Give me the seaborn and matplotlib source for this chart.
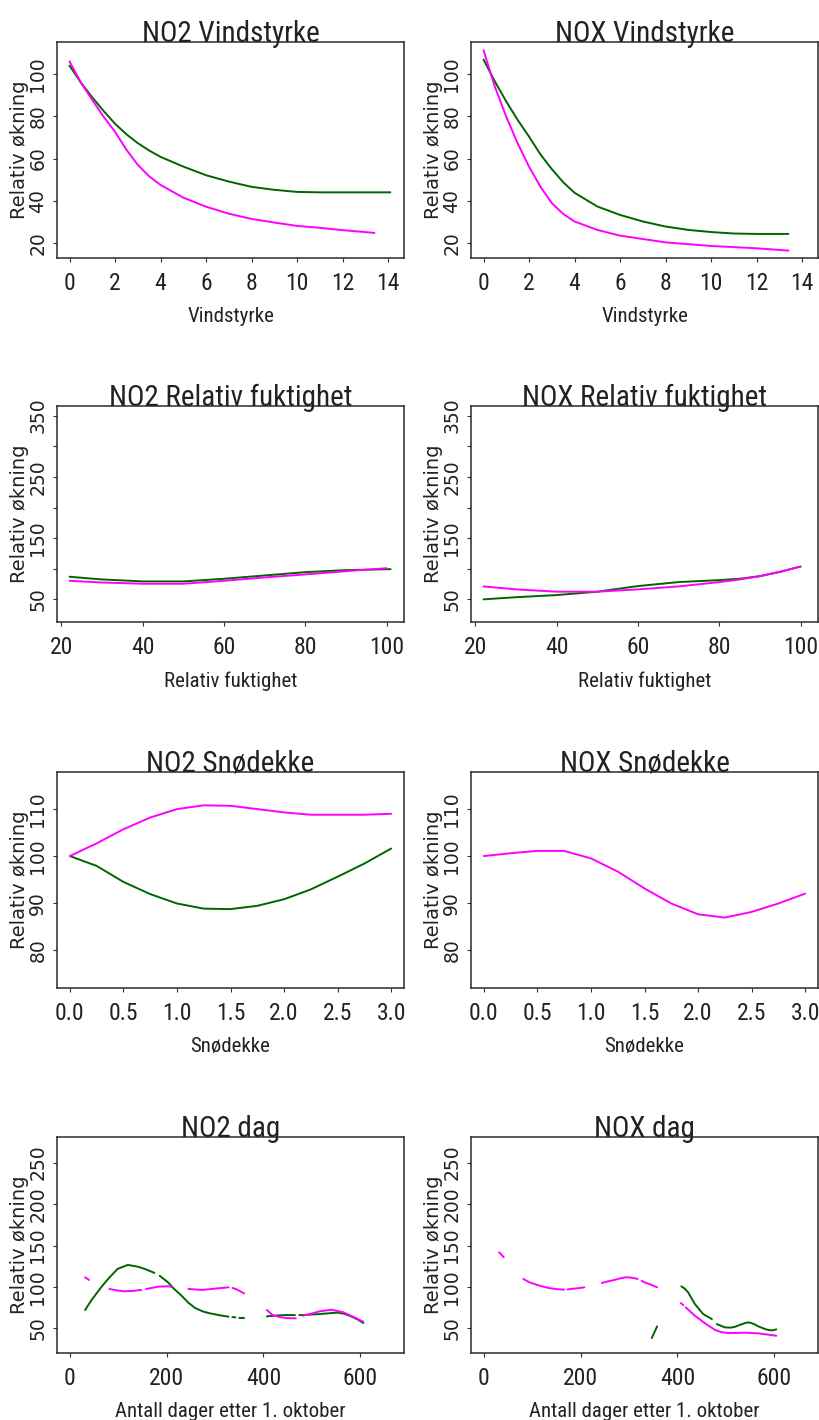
import numpy as np
import pandas as pd
import matplotlib
matplotlib.use("Agg")
import matplotlib.pyplot as plt
import seaborn as sns

# ---------------- data ----------------
# magenta = serie A, dark green = serie B

# Vindstyrke
vind_no2_mag_x = [0, 0.5, 1, 1.5, 2, 2.5, 3, 3.5, 4, 5, 6, 7, 8, 9, 10, 11, 12, 13.4]
vind_no2_mag_y = [106, 96, 87.7, 79.8, 72.7, 64.2, 57.0, 51.6, 47.5, 41.5, 37.2, 33.9, 31.4, 29.7, 28.1, 27.2, 26.1, 24.8]
vind_no2_grn_x = [0, 0.5, 1, 1.5, 2, 2.5, 3, 3.5, 4, 5, 6, 7, 8, 9, 10, 11, 12, 13, 14.1]
vind_no2_grn_y = [104, 96, 89, 82.5, 76.5, 71.5, 67.3, 63.8, 60.8, 56.2, 52.1, 49.1, 46.6, 45.2, 44.2, 44, 44, 44, 44]

vind_nox_mag_x = [0, 0.5, 1, 1.5, 2, 2.5, 3, 3.5, 4, 5, 6, 8, 10, 12, 13.4]
vind_nox_mag_y = [111.3, 94, 79.8, 67.2, 56.2, 46.7, 38.9, 33.8, 30.2, 26.2, 23.5, 20.3, 18.6, 17.5, 16.4]
vind_nox_grn_x = [0, 0.5, 1, 1.5, 2, 2.5, 3, 3.5, 4, 5, 6, 7, 8, 9, 10, 11, 12, 13.4]
vind_nox_grn_y = [106.9, 96.5, 87, 78.3, 70.4, 62, 55, 48.8, 43.8, 37.3, 33.3, 30.2, 27.8, 26.2, 25.2, 24.5, 24.3, 24.3]

# Relativ fuktighet
rf_no2_mag_x = [22, 30, 40, 50, 60, 70, 80, 90, 100]
rf_no2_mag_y = [80.3, 77.5, 75.5, 75.5, 80.3, 85.8, 90.7, 96.0, 100.9]
rf_no2_grn_x = [22, 30, 40, 50, 60, 70, 80, 90, 101]
rf_no2_grn_y = [86.9, 82.5, 79.3, 79.3, 83.6, 89.0, 94.4, 97.7, 99.3]

rf_nox_mag_x = [22, 30, 40, 50, 60, 70, 80, 85, 90, 95, 100]
rf_nox_mag_y = [71.1, 66.3, 62.5, 62.5, 66.3, 71.1, 78.2, 82.4, 87.9, 95.0, 103.6]
rf_nox_grn_x = [22, 30, 40, 50, 60, 70, 80, 85, 90, 95, 100]
rf_nox_grn_y = [50.0, 53.5, 57.0, 62.5, 71.7, 78.2, 81.4, 83.6, 87.9, 95.0, 103.6]

# Snødekke
sno_x = [0, 0.25, 0.5, 0.75, 1.0, 1.25, 1.5, 1.75, 2.0, 2.25, 2.5, 2.75, 3.0]
sno_no2_mag_y = [100, 102.7, 105.7, 108.2, 110.0, 110.8, 110.7, 110.0, 109.3, 108.8, 108.8, 108.8, 109.0]
sno_no2_grn_y = [100, 97.9, 94.5, 91.9, 89.9, 88.8, 88.7, 89.4, 90.8, 92.9, 95.6, 98.4, 101.6]
sno_nox_mag_y = [100, 100.6, 101.1, 101.1, 99.5, 96.7, 93.1, 89.9, 87.6, 86.9, 88.1, 89.9, 92.0]

# dag (broken curves: segment id per point)
dag_no2_mag_x = [32, 40, 82, 100, 113, 130, 148, 158, 183, 203, 210, 245, 273, 300, 328,
                 336, 345, 360, 407, 419, 435, 447, 467, 481, 500, 516, 540, 565, 585, 606]
dag_no2_mag_y = [111.7, 108.5, 97.6, 95.6, 94.8, 95.2, 96.4, 97.5, 100.4, 100.8, 100.2, 97.6, 96.4, 98.0, 99.6,
                 98.8, 97.0, 92.3, 72.2, 66.1, 63.5, 62.5, 62.1, 65.3, 68.0, 70.6, 72.6, 69.4, 64.1, 58.1]
dag_no2_mag_seg = [0, 0, 1, 1, 1, 1, 1, 2, 2, 2, 2, 3, 3, 3, 3,
                   4, 4, 4, 5, 5, 5, 5, 5, 6, 6, 6, 6, 6, 6, 6]
dag_no2_grn_x = [32, 45, 65, 80, 99, 120, 140, 155, 175, 186, 203, 215, 231, 245, 259, 275, 287, 310, 328,
                 336, 342, 350, 360, 407, 430, 447, 465, 474, 481, 516, 540, 551, 565, 578, 595, 606]
dag_no2_grn_y = [72.2, 84.0, 99.6, 110.0, 121.8, 126.6, 124.6, 121.8, 117.0, 113.5, 105.6, 98.0, 89.5, 81.0,
                 74.6, 70.5, 68.5, 65.8, 64.1, 63.6, 63.3, 62.6, 62.5, 64.5, 65.7, 66.1, 66.1, 66.1, 66.1,
                 67.3, 68.5, 69.0, 67.9, 65.3, 60.5, 56.5]
dag_no2_grn_seg = [0, 0, 0, 0, 0, 0, 0, 0, 0, 1, 1, 1, 1, 1, 1, 1, 1, 1, 1,
                   2, 2, 3, 3, 4, 4, 4, 4, 5, 5, 5, 5, 5, 5, 5, 5, 5]

dag_nox_mag_x = [32, 41.5, 82, 95, 111, 125, 138, 152, 166, 173, 180, 195, 208, 244, 257, 270, 282, 294, 306, 318,
                 326, 332, 345, 358, 407, 412, 417, 436, 457, 478, 490, 505, 520, 540, 567, 585, 604]
dag_nox_mag_y = [141.9, 135.9, 109.7, 105.5, 102.4, 100.0, 98.4, 97.3, 96.8, 96.9, 97.6, 98.5, 99.6, 104.8,
                 106.8, 108.5, 110.4, 111.7, 111.2, 109.7, 107.5, 105.6, 102.8, 99.6, 80.6, 78.0, 75.4,
                 65.3, 56.0, 48.0, 45.5, 44.4, 44.5, 44.8, 44.0, 42.6, 41.1]
dag_nox_mag_seg = [0, 0, 1, 1, 1, 1, 1, 1, 1, 2, 2, 2, 2, 3, 3, 3, 3, 3, 3, 3,
                   4, 4, 4, 4, 5, 5, 6, 6, 6, 6, 6, 6, 6, 6, 6, 6, 6]
dag_nox_grn_x = [347, 358, 408, 415, 422, 436, 453, 471, 481, 498, 510, 519, 530, 540, 547, 557, 567, 580, 588, 596, 604]
dag_nox_grn_y = [38.3, 52.4, 100.8, 98.0, 93.5, 79.4, 67.3, 61.3, 55.2, 51.2, 50.9, 52.0, 54.5, 56.5, 57.3,
                 55.5, 52.4, 49.4, 48.0, 47.6, 48.8]
dag_nox_grn_seg = [0, 0, 1, 1, 1, 1, 1, 1, 2, 2, 2, 2, 2, 2, 2, 2, 2, 2, 2, 2, 2]

# ---------------- helpers ----------------
MAGENTA = "#ff00ff"
GREEN = "#006400"
palette = {"A": MAGENTA, "B": GREEN}

NARROW = ["Roboto Condensed", "Liberation Sans", "DejaVu Sans"]
WIDE = ["DejaVu Sans"]
TEXT_COLOR = "#222222"


def frame(*series):
    """series: (name, xs, ys, segs or None)"""
    parts = []
    for name, xs, ys, segs in series:
        if segs is None:
            segs = [0] * len(xs)
        parts.append(pd.DataFrame({"x": xs, "y": ys, "serie": name,
                                   "seg": [f"{name}{s}" for s in segs]}))
    return pd.concat(parts, ignore_index=True)


panels = [
    (0, 0, "NO2 Vindstyrke", "Vindstyrke",
     frame(("B", vind_no2_grn_x, vind_no2_grn_y, None), ("A", vind_no2_mag_x, vind_no2_mag_y, None))),
    (0, 1, "NOX Vindstyrke", "Vindstyrke",
     frame(("B", vind_nox_grn_x, vind_nox_grn_y, None), ("A", vind_nox_mag_x, vind_nox_mag_y, None))),
    (1, 0, "NO2 Relativ fuktighet", "Relativ fuktighet",
     frame(("B", rf_no2_grn_x, rf_no2_grn_y, None), ("A", rf_no2_mag_x, rf_no2_mag_y, None))),
    (1, 1, "NOX Relativ fuktighet", "Relativ fuktighet",
     frame(("B", rf_nox_grn_x, rf_nox_grn_y, None), ("A", rf_nox_mag_x, rf_nox_mag_y, None))),
    (2, 0, "NO2 Snødekke", "Snødekke",
     frame(("B", sno_x, sno_no2_grn_y, None), ("A", sno_x, sno_no2_mag_y, None))),
    (2, 1, "NOX Snødekke", "Snødekke",
     frame(("A", sno_x, sno_nox_mag_y, None))),
    (3, 0, "NO2 dag", "Antall dager etter 1. oktober",
     frame(("B", dag_no2_grn_x, dag_no2_grn_y, dag_no2_grn_seg),
           ("A", dag_no2_mag_x, dag_no2_mag_y, dag_no2_mag_seg))),
    (3, 1, "NOX dag", "Antall dager etter 1. oktober",
     frame(("B", dag_nox_grn_x, dag_nox_grn_y, dag_nox_grn_seg),
           ("A", dag_nox_mag_x, dag_nox_mag_y, dag_nox_mag_seg))),
]

# per-row axis settings
row_xlim = [(-0.55, 14.7), (18.9, 104.3), (-0.12, 3.12), (-26, 690)]
row_ylim = [(12.9, 115.2), (13, 365.8), (71.9, 117.9), (20.3, 281)]
row_xticks = [np.arange(0, 15, 2), np.arange(20, 101, 20), np.arange(0, 3.01, 0.5), np.arange(0, 601, 200)]
row_yticks = [np.arange(20, 101, 20), np.arange(50, 351, 50), np.arange(80, 111, 10), np.arange(50, 251, 50)]

# ---------------- figure ----------------
sns.set_style("ticks")
plt.rcParams["font.family"] = WIDE

FIG_W, FIG_H = 819, 1420
fig = plt.figure(figsize=(FIG_W / 100, FIG_H / 100), dpi=100)

col_left = [57, 471]
row_top = [42, 406, 772, 1137]
ax_w, ax_h = 347, 216

for row, col, title, xlabel, df in panels:
    ax = fig.add_axes([col_left[col] / FIG_W, 1 - (row_top[row] + ax_h) / FIG_H,
                       ax_w / FIG_W, ax_h / FIG_H])
    sns.lineplot(data=df, x="x", y="y", hue="serie", units="seg", estimator=None,
                 sort=False, palette=palette, legend=False, linewidth=1.4, ax=ax)

    ax.set_xlim(*row_xlim[row])
    ax.set_ylim(*row_ylim[row])

    xt = row_xticks[row]
    ax.set_xticks(xt)
    if row == 2:
        ax.set_xticklabels([f"{v:.1f}" for v in xt])
    else:
        ax.set_xticklabels([f"{v:g}" for v in xt])
    for lab in ax.get_xticklabels():
        lab.set_fontfamily(NARROW)
        lab.set_fontsize(17)
        lab.set_color(TEXT_COLOR)

    yt = row_yticks[row]
    ax.set_yticks(yt)
    if row == 1:
        ylabs = [f"{v:g}" if i % 2 == 0 else "" for i, v in enumerate(yt)]
    else:
        ylabs = [f"{v:g}" for v in yt]
    ax.set_yticklabels(ylabs, rotation=90, va="center", fontsize=13.5, color=TEXT_COLOR)

    ax.tick_params(axis="x", direction="out", length=3, width=0.8, color="#333333", pad=7)
    ax.tick_params(axis="y", direction="out", length=3, width=0.8, color="#333333", pad=4)

    for sp in ax.spines.values():
        sp.set_visible(True)
        sp.set_color("#2b2b2b")
        sp.set_linewidth(1.1)

    # title sits with its baseline on the top frame line
    ax.text(0.5, 1.0, title, transform=ax.transAxes, ha="center", va="baseline",
            fontsize=21, family=NARROW, color=TEXT_COLOR)
    ax.set_xlabel(xlabel, fontsize=15, family=NARROW, color=TEXT_COLOR, labelpad=9)
    ax.set_ylabel("Relativ økning", fontsize=14, family=WIDE, color=TEXT_COLOR, va="center")
    ax.yaxis.set_label_coords(-37 / ax_w, 0.5)

fig.savefig("out.png", dpi=100, facecolor="white")
